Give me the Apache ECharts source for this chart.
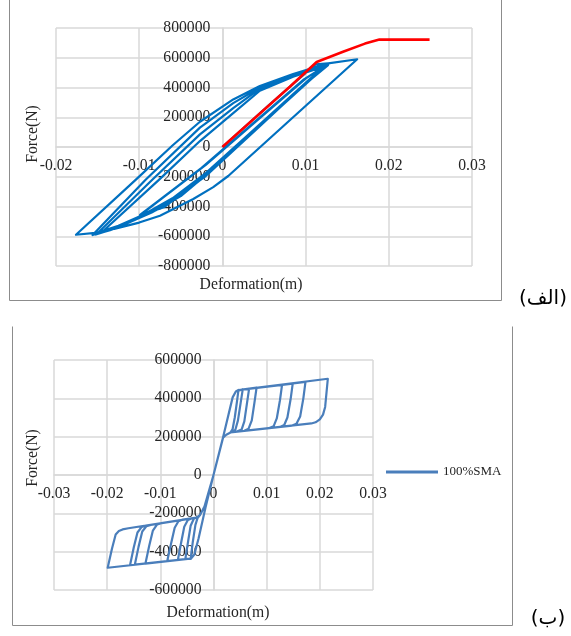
<!DOCTYPE html>
<html>
<head>
<meta charset="utf-8">
<script src="https://cdn.jsdelivr.net/npm/echarts@6/dist/echarts.min.js"></script>
<style>
html,body{margin:0;padding:0;background:#fff;}
#chart{width:571px;height:636px;}
</style>
</head>
<body>
<div id="chart"></div>
<script>
// ---------- Chart (الف): tick values ----------
const topXTicks = {min: -0.02, max: 0.03, step: 0.01};
const topYTicks = {min: -800000, max: 800000, step: 200000};

// ---------- Chart (الف): red monotonic curve ----------
const topRedPushover = [[0,0],[0.0081,405000],[0.01133,571000],[0.0145,640000],[0.01714,695000],[0.01887,722000],[0.0249,722000]];

// ---------- Chart (الف): blue cyclic branches (in drawing order) ----------
const topInitialLoading = [[0,0],[0.0056,282000],[0.0112,555000],[0.0127,562000]];
const topBandUnload1 = [[0.0127,562000],[0.0108,470000],[0.0040,125000],[-0.0020,-195000],[-0.0075,-415000],[-0.0096,-446000]];
const topBandReload1 = [[-0.0096,-446000],[-0.0082,-385000],[-0.0020,-120000],[0.0040,170000],[0.0100,460000],[0.0126,556000]];
const topBandUnload2 = [[0.0126,556000],[0.0108,468000],[0.0045,140000],[-0.0015,-170000],[-0.0070,-405000],[-0.0099,-456000]];
const topBandReload2 = [[-0.0099,-456000],[-0.0084,-392000],[-0.0025,-140000],[0.0035,150000],[0.0098,455000],[0.0128,560000]];
const topLowerTo143 = [[0.0128,560000],[0.0108,466000],[0.0040,125000],[-0.0020,-192000],[-0.0050,-325000],[-0.0080,-425000],[-0.0110,-500000],[-0.0130,-540000],[-0.0143,-563000]];
const topUpperFrom143 = [[-0.0143,-563000],[-0.0076,-219000],[-0.0027,40000],[0.0013,228000],[0.0045,378000],[0.0085,472000],[0.0127,550000]];
const topLowerTo151 = [[0.0127,550000],[0.0107,458000],[0.0040,118000],[-0.0020,-190000],[-0.0050,-330000],[-0.0085,-440000],[-0.0115,-515000],[-0.0135,-560000],[-0.0151,-585000]];
const topUpperFrom151 = [[-0.0151,-585000],[-0.0084,-219000],[-0.0027,85000],[0.0013,262000],[0.0045,392000],[0.0085,480000],[0.0127,553000]];
const topLowerTo156 = [[0.0127,553000],[0.0107,460000],[0.0040,120000],[-0.0020,-185000],[-0.0055,-340000],[-0.0090,-445000],[-0.0120,-520000],[-0.0140,-565000],[-0.0156,-592000]];
const topUpperFrom156 = [[-0.0156,-592000],[-0.0092,-219000],[-0.0027,130000],[0.0013,295000],[0.0045,400000],[0.0085,485000],[0.0126,556000]];
const topLowerTo176 = [[0.0126,556000],[0.0106,462000],[0.0040,128000],[-0.0020,-175000],[-0.0060,-345000],[-0.0095,-455000],[-0.0125,-530000],[-0.0150,-575000],[-0.0176,-590000]];
const topUpperFrom176 = [[-0.0176,-590000],[-0.0104,-219000],[-0.0060,10000],[-0.0027,170000],[0.0013,320000],[0.0045,410000],[0.0085,490000],[0.0125,560000],[0.0162,590000]];
const topLowerFromPeak = [[0.0162,590000],[0.0080,175000],[0.0007,-195000],[-0.0011,-270000],[-0.0035,-350000],[-0.0075,-462000],[-0.0100,-508000],[-0.0130,-550000],[-0.0153,-590000]];

// ---------- Chart (ب): tick values ----------
const botXTicks = {min: -0.03, max: 0.03, step: 0.01};
const botYTicks = {min: -600000, max: 600000, step: 200000};
const botSeriesName = '100%SMA';

// ---------- Chart (ب): SMA half cycles (positive then negative, in order) ----------
const smaPositiveHalves = [
  [[0,0],[0.0018,197000],[0.0036,405000],[0.0042,436000],[0.0047,444000],[0.0044,380000],[0.0040,300000],[0.0036,240000],[0.0032,222000],[0.0024,210000],[0.0018,195000],[0,0]],
  [[0,0],[0.0018,197000],[0.0036,405000],[0.0042,436000],[0.0055,447000],[0.0051,375000],[0.0046,285000],[0.0041,235000],[0.0032,222000],[0.0024,210000],[0.0018,195000],[0,0]],
  [[0,0],[0.0018,197000],[0.0036,405000],[0.0042,436000],[0.0050,444000],[0.0067,451000],[0.0063,375000],[0.0058,280000],[0.0053,238000],[0.0045,228000],[0.0032,222000],[0.0024,210000],[0.0018,195000],[0,0]],
  [[0,0],[0.0018,197000],[0.0036,405000],[0.0042,436000],[0.0050,444000],[0.0081,456000],[0.0077,378000],[0.0072,285000],[0.0066,242000],[0.0058,231000],[0.0032,222000],[0.0024,210000],[0.0018,195000],[0,0]],
  [[0,0],[0.0018,197000],[0.0036,405000],[0.0042,436000],[0.0050,444000],[0.0129,471000],[0.0125,390000],[0.0119,295000],[0.0113,254000],[0.0105,245000],[0.0032,222000],[0.0024,210000],[0.0018,195000],[0,0]],
  [[0,0],[0.0018,197000],[0.0036,405000],[0.0042,436000],[0.0050,444000],[0.0149,477000],[0.0145,395000],[0.0139,300000],[0.0133,261000],[0.0125,251000],[0.0032,222000],[0.0024,210000],[0.0018,195000],[0,0]],
  [[0,0],[0.0018,197000],[0.0036,405000],[0.0042,436000],[0.0050,444000],[0.0173,486000],[0.0169,400000],[0.0163,305000],[0.0156,267000],[0.0148,258000],[0.0032,222000],[0.0024,210000],[0.0018,195000],[0,0]],
  [[0,0],[0.0018,197000],[0.0036,405000],[0.0042,436000],[0.0050,444000],[0.0215,502000],[0.0210,355000],[0.0206,315000],[0.0200,290000],[0.0192,275000],[0.0184,269000],[0.0032,222000],[0.0024,210000],[0.0018,195000],[0,0]]
];
const smaNegativeHalves = [
  [[0,0],[-0.0015,-170000],[-0.0028,-330000],[-0.0036,-415000],[-0.0043,-438000],[-0.0039,-350000],[-0.0034,-260000],[-0.0030,-225000],[-0.0025,-208000],[-0.0017,-165000],[0,0]],
  [[0,0],[-0.0015,-170000],[-0.0028,-330000],[-0.0036,-415000],[-0.0044,-436000],[-0.0053,-439000],[-0.0048,-350000],[-0.0043,-265000],[-0.0037,-228000],[-0.0032,-222000],[-0.0025,-208000],[-0.0017,-165000],[0,0]],
  [[0,0],[-0.0015,-170000],[-0.0028,-330000],[-0.0036,-415000],[-0.0044,-436000],[-0.0067,-443000],[-0.0061,-355000],[-0.0055,-270000],[-0.0048,-234000],[-0.0040,-226000],[-0.0032,-222000],[-0.0025,-208000],[-0.0017,-165000],[0,0]],
  [[0,0],[-0.0015,-170000],[-0.0028,-330000],[-0.0036,-415000],[-0.0044,-436000],[-0.0087,-449000],[-0.0080,-360000],[-0.0073,-275000],[-0.0066,-241000],[-0.0058,-233000],[-0.0032,-222000],[-0.0025,-208000],[-0.0017,-165000],[0,0]],
  [[0,0],[-0.0015,-170000],[-0.0028,-330000],[-0.0036,-415000],[-0.0044,-436000],[-0.0128,-462000],[-0.0121,-370000],[-0.0114,-290000],[-0.0106,-258000],[-0.0098,-251000],[-0.0032,-222000],[-0.0025,-208000],[-0.0017,-165000],[0,0]],
  [[0,0],[-0.0015,-170000],[-0.0028,-330000],[-0.0036,-415000],[-0.0044,-436000],[-0.0148,-468000],[-0.0141,-375000],[-0.0134,-295000],[-0.0126,-267000],[-0.0118,-260000],[-0.0032,-222000],[-0.0025,-208000],[-0.0017,-165000],[0,0]],
  [[0,0],[-0.0015,-170000],[-0.0028,-330000],[-0.0036,-415000],[-0.0044,-436000],[-0.0157,-471000],[-0.0150,-378000],[-0.0143,-300000],[-0.0135,-271000],[-0.0127,-264000],[-0.0032,-222000],[-0.0025,-208000],[-0.0017,-165000],[0,0]],
  [[0,0],[-0.0015,-170000],[-0.0028,-330000],[-0.0036,-415000],[-0.0044,-436000],[-0.0199,-484000],[-0.0191,-385000],[-0.0184,-310000],[-0.0178,-292000],[-0.0171,-284000],[-0.0160,-278000],[-0.0032,-222000],[-0.0025,-208000],[-0.0017,-165000],[0,0]]
];

// ---------- build option ----------
const topBluePath = [].concat(topInitialLoading, topBandUnload1, topBandReload1, topBandUnload2, topBandReload2,
  topLowerTo143, topUpperFrom143, topLowerTo151, topUpperFrom151, topLowerTo156, topUpperFrom156,
  topLowerTo176, topUpperFrom176, topLowerFromPeak);
const smaPath = [];
for (let i = 0; i < smaPositiveHalves.length; i++) {
  smaPath.push(...smaPositiveHalves[i]);
  smaPath.push(...smaNegativeHalves[i]);
}

const FONT = 'Liberation Serif, Times New Roman, serif';
const GRID_COLOR = '#d9d9d9';
const LABEL_COLOR = '#262626';

const grids = [
  {left: 56, top: 28, width: 416, height: 238, outerBoundsMode: 'none', containLabel: false},
  {left: 54, top: 360, width: 319, height: 230, outerBoundsMode: 'none', containLabel: false}
];

// axes crossing at the origin (Excel style): offset the axis line onto the zero of the other axis
function valueAxis(gridIndex, ticks, otherTicks, isX) {
  const g = grids[gridIndex];
  const frac = (0 - otherTicks.min) / (otherTicks.max - otherTicks.min);
  const offset = isX ? -g.height * frac : -g.width * frac;
  return {
    type: 'value', gridIndex: gridIndex,
    position: isX ? 'bottom' : 'left',
    offset: offset,
    min: ticks.min, max: ticks.max, interval: ticks.step,
    axisLine: {show: true, onZero: true, lineStyle: {color: GRID_COLOR, width: 1.5}},
    axisTick: {show: false},
    axisLabel: {
      fontFamily: FONT, fontSize: 15.7, color: LABEL_COLOR,
      margin: isX ? 11 : 12,
      formatter: function (v) { return String(+v.toFixed(6)); }
    },
    splitLine: {show: true, lineStyle: {color: GRID_COLOR, width: 1.5}}
  };
}

const chart = echarts.init(document.getElementById('chart'), null, {renderer: 'canvas'});
chart.setOption({
  animation: false,
  backgroundColor: '#ffffff',
  grid: grids,
  xAxis: [valueAxis(0, topXTicks, topYTicks, true), valueAxis(1, botXTicks, botYTicks, true)],
  yAxis: [valueAxis(0, topYTicks, topXTicks, false), valueAxis(1, botYTicks, botXTicks, false)],
  legend: {
    data: [botSeriesName],
    left: 386, top: 465, padding: 0,
    icon: 'rect', itemWidth: 52, itemHeight: 3,
    textStyle: {fontFamily: FONT, fontSize: 13, lineHeight: 14, color: LABEL_COLOR}
  },
  series: [
    {name: 'cyclic', type: 'line', xAxisIndex: 0, yAxisIndex: 0, data: topBluePath,
     showSymbol: false, symbol: 'none', color: '#0070C0',
     lineStyle: {width: 2.2, color: '#0070C0', join: 'round'}},
    {name: 'pushover', type: 'line', xAxisIndex: 0, yAxisIndex: 0, data: topRedPushover,
     showSymbol: false, symbol: 'none', color: '#FF0000',
     lineStyle: {width: 2.6, color: '#FF0000'}},
    {name: botSeriesName, type: 'line', xAxisIndex: 1, yAxisIndex: 1, data: smaPath,
     showSymbol: false, symbol: 'none', color: '#4A7EBB',
     lineStyle: {width: 2.2, color: '#4A7EBB', join: 'round'}}
  ],
  graphic: [
    {type: 'polyline', shape: {points: [[9.5,-2],[9.5,300.5],[501.5,300.5],[501.5,-2]]},
     style: {stroke: '#8c8c8c', lineWidth: 1, fill: null}, silent: true},
    {type: 'polyline', shape: {points: [[12.5,326.5],[12.5,625.5],[512.5,625.5],[512.5,326.5]]},
     style: {stroke: '#8c8c8c', lineWidth: 1, fill: null}, silent: true},
    {type: 'text', x: 33, y: 134, rotation: Math.PI / 2,
     style: {text: 'Force(N)', font: '15.7px ' + FONT, fill: LABEL_COLOR, textAlign: 'center', textVerticalAlign: 'middle'}},
    {type: 'text', x: 251, y: 285,
     style: {text: 'Deformation(m)', font: '15.7px ' + FONT, fill: LABEL_COLOR, textAlign: 'center', textVerticalAlign: 'middle'}},
    {type: 'text', x: 33, y: 458, rotation: Math.PI / 2,
     style: {text: 'Force(N)', font: '15.7px ' + FONT, fill: LABEL_COLOR, textAlign: 'center', textVerticalAlign: 'middle'}},
    {type: 'text', x: 218, y: 612.5,
     style: {text: 'Deformation(m)', font: '15.7px ' + FONT, fill: LABEL_COLOR, textAlign: 'center', textVerticalAlign: 'middle'}},
    {type: 'text', x: 543, y: 299,
     style: {text: '(الف)', font: '20px DejaVu Sans, sans-serif', fill: '#000', textAlign: 'center', textVerticalAlign: 'middle'}},
    {type: 'text', x: 548, y: 619,
     style: {text: '(ب)', font: '20px DejaVu Sans, sans-serif', fill: '#000', textAlign: 'center', textVerticalAlign: 'middle'}}
  ]
});
</script>
</body>
</html>
